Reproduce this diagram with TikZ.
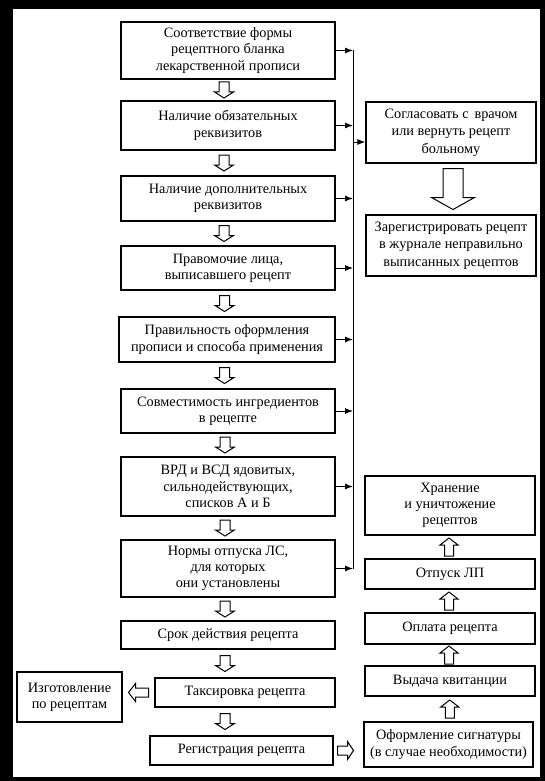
\documentclass[tikz,border=0pt]{standalone}
\usepackage{fontspec}
\setmainfont{Liberation Serif}
\usetikzlibrary{calc,arrows.meta}
\begin{document}
\begin{tikzpicture}[x=1pt,y=-1pt,
  box/.style={draw, line width=1.2pt, align=center, inner sep=0pt,
    font=\fontsize{14.3}{16.3}\selectfont},
  mbox/.style={box, minimum width=214pt},
  rbox/.style={box, minimum width=170pt},
  hol/.style={draw, line width=1pt, fill=white, line join=miter},
  conn/.style={line width=1pt},
  sarr/.style={conn, -{Latex[length=8pt,width=6pt]}},
  hdown/.pic={\path[hol] (-5,-8) -- (5,-8) -- (5,2) -- (9.5,2) -- (0,8) -- (-9.5,2) -- (-5,2) -- cycle;},
  hup/.pic={\path[hol] (-4.5,9) -- (4.5,9) -- (4.5,-2) -- (9,-2) -- (0,-9) -- (-9,-2) -- (-4.5,-2) -- cycle;},
  hleft/.pic={\path[hol] (10,-4.5) -- (10,4.5) -- (-3,4.5) -- (-3,9) -- (-10,0) -- (-3,-9) -- (-3,-4.5) -- cycle;},
  hright/.pic={\path[hol] (-8,-4.5) -- (-8,4.5) -- (2,4.5) -- (2,9) -- (8,0) -- (2,-9) -- (2,-4.5) -- cycle;},
  bigdown/.pic={\path[hol] (-10,-20.5) -- (10,-20.5) -- (10,8.5) -- (21.5,8.5) -- (0,20.5) -- (-21.5,8.5) -- (-10,8.5) -- cycle;}
]
% frame
\fill[black] (0,0) rectangle (545,781);
\fill[white] (13,9) rectangle (540,777);
\useasboundingbox (0,0) rectangle (545,781);

% main column
\node[mbox, minimum height=57pt] (b1) at (228,50.5) {Соответствие формы\\рецептного бланка\\лекарственной прописи};
\node[mbox, minimum height=49pt] (b2) at (228,125.5) {Наличие обязательных\\реквизитов};
\node[mbox, minimum height=45pt] (b3) at (228,198.5) {Наличие дополнительных\\реквизитов};
\node[mbox, minimum height=44pt] (b4) at (228,268) {Правомочие лица,\\выписавшего рецепт};
\node[mbox, minimum height=45pt, minimum width=216pt] (b5) at (227,339.5) {Правильность оформления\\прописи и способа применения};
\node[mbox, minimum height=44pt] (b6) at (228,411) {Совместимость ингредиентов\\в рецепте};
\node[mbox, minimum height=59pt] (b7) at (228,486.5) {ВРД и ВСД ядовитых,\\сильнодействующих,\\списков А и Б};
\node[mbox, minimum height=57pt] (b8) at (228,568.5) {Нормы отпуска ЛС,\\для которых\\они установлены};
\node[mbox, minimum height=28pt] (b9) at (228,635) {Срок действия рецепта};
\node[box, minimum width=180pt, minimum height=29pt] (b10) at (245,692.5) {Таксировка рецепта};
\node[box, minimum width=183pt, minimum height=29pt] (b11) at (241.5,750.5) {Регистрация рецепта};
\node[box, minimum width=105pt, minimum height=50pt] (izg) at (69.5,697) {Изготовление\\по рецептам};

% right column
\node[rbox, minimum height=61pt, font=\fontsize{14.3}{17.5}\selectfont] (r1) at (451,132.5) {Согласовать с\,\ врачом\\или вернуть рецепт\\больному};
\node[rbox, minimum height=61pt, font=\fontsize{14.3}{17.5}\selectfont] (r2) at (451,245.5) {Зарегистрировать рецепт\\в журнале неправильно\\выписанных рецептов};
\node[rbox, minimum height=59pt] (r3) at (450,505.5) {Хранение\\и уничтожение\\рецептов};
\node[rbox, minimum height=30pt] (r4) at (450,574) {Отпуск ЛП};
\node[rbox, minimum height=31pt] (r5) at (450,628.5) {Оплата рецепта};
\node[rbox, minimum height=30pt] (r6) at (450,681) {Выдача квитанции};
\node[box, minimum width=169pt, minimum height=45pt] (r7) at (448.5,744.5) {Оформление сигнатуры\\(в случае необходимости)};

% vertical collector line
\coordinate (vx) at (353,0);
\draw[conn] (b1.east -| vx) -- (b8.east -| vx);
\foreach \b in {b1,b2,b3,b4,b5,b6,b7,b8}
  \draw[sarr] (\b.east) -- (\b.east -| vx);
\draw[sarr] ([yshift=-9.5pt]r1.west -| vx) -- ([yshift=-9.5pt]r1.west);

% hollow arrows down the main column
\pic at ($(b1.south)!0.5!(b2.north)+(-4,0)$) {hdown};
\pic at ($(b2.south)!0.5!(b3.north)+(-4,0)$) {hdown};
\pic at ($(b3.south)!0.5!(b4.north)+(-4,0)$) {hdown};
\pic at ($(b4.south)!0.5!(b5.north)+(-3,0)$) {hdown};
\pic at ($(b5.south)!0.5!(b6.north)+(-3,0)$) {hdown};
\pic at ($(b6.south)!0.5!(b7.north)+(-3,0)$) {hdown};
\pic at ($(b7.south)!0.5!(b8.north)+(-3,0)$) {hdown};
\pic at ($(b8.south)!0.5!(b9.north)+(-3,0)$) {hdown};
\pic at ($(b9.south)!0.5!(b9.south |- b10.north)+(-3,0)$) {hdown};
\pic at ($(b9.south |- b10.south)!0.5!(b9.south |- b11.north)+(-3,0)$) {hdown};

% side hollow arrows
\pic at ($(b10.west)!0.5!(izg.east |- b10.west)$) {hleft};
\pic at ($(b11.east)!0.5!(r7.west |- b11.east)+(-3,0)$) {hright};

% right column
\pic at ($(r1.south)!0.5!(r2.north)+(2,0)$) {bigdown};
\pic at ($(r7.north)!0.5!(r6.south)+(0.5,0)$) {hup};
\pic at ($(r6.north)!0.5!(r5.south)+(-1,0)$) {hup};
\pic at ($(r5.north)!0.5!(r4.south)+(-1,0)$) {hup};
\pic at ($(r4.north)!0.5!(r3.south)+(-1,0)$) {hup};
\end{tikzpicture}
\end{document}
